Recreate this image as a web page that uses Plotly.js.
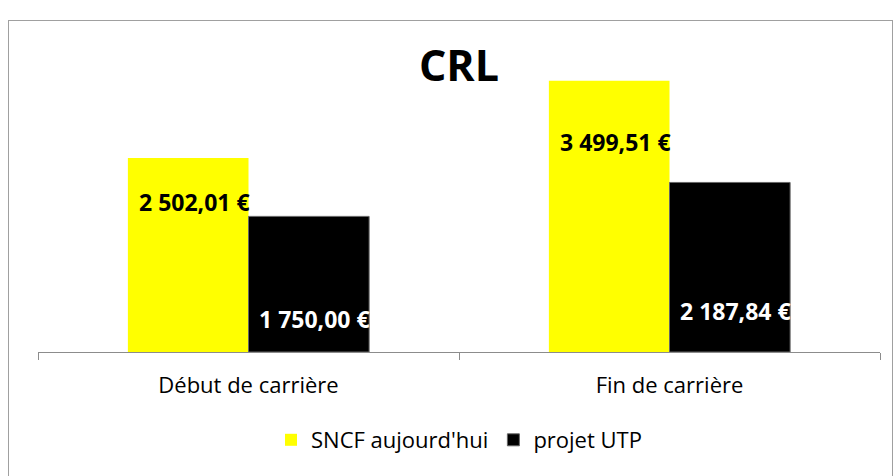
<!DOCTYPE html>
<html>
<head>
<meta charset="utf-8">
<script src="https://cdn.plot.ly/plotly-3.0.1.min.js"></script>
<style>
  html, body { margin: 0; padding: 0; background: #fff; }
  #frame { position: absolute; left: 8px; top: 20px; width: 885px; height: 470px; border: 1px solid #a0a0a0; box-sizing: border-box; }
  #chart { position: absolute; left: 0; top: 0; width: 896px; height: 476px; }
</style>
</head>
<body>
<div id="frame"></div>
<div id="chart"></div>
<script>
const categories = ["Début de carrière", "Fin de carrière"];
const seriesNames = ["SNCF aujourd'hui", "projet UTP"];
const sncfValues = [2502.01, 3499.51];
const utpValues = [1750.00, 2187.84];
const sncfLabels = ["2 502,01 €", "3 499,51 €"];
const utpLabels = ["1 750,00 €", "2 187,84 €"];

const W = 896, H = 476;
const margin = { l: 38, r: 16, t: 42, b: 124 };
const bargap = 0.427;
const plotW = W - margin.l - margin.r;
const barW = (plotW / categories.length) * (1 - bargap) / 2;
const FONT = "'Open Sans', 'Noto Sans', sans-serif";

const traces = [
  { type: 'bar', name: seriesNames[0], x: categories, y: sncfValues,
    marker: { color: '#FFFF00' }, hoverinfo: 'skip' },
  { type: 'bar', name: seriesNames[1], x: categories, y: utpValues,
    marker: { color: '#000000', line: { color: '#666666', width: 1 } }, hoverinfo: 'skip' }
];

const annotations = [];
categories.forEach((c, i) => {
  annotations.push({ x: c, y: sncfValues[i] * 0.775, xref: 'x', yref: 'y', text: sncfLabels[i],
    showarrow: false, xanchor: 'right', yanchor: 'middle', xshift: 3,
    font: { family: FONT, size: 23, color: '#000000', weight: 'bold' } });
  annotations.push({ x: c, y: utpValues[i] * 0.24, xref: 'x', yref: 'y', text: utpLabels[i],
    showarrow: false, xanchor: 'right', yanchor: 'middle', xshift: barW + 3,
    font: { family: FONT, size: 23, color: '#FFFFFF', weight: 'bold' } });
});

const layout = {
  width: W, height: H,
  margin: margin,
  paper_bgcolor: 'rgba(0,0,0,0)',
  plot_bgcolor: 'rgba(0,0,0,0)',
  font: { family: FONT, color: '#000000' },
  title: { text: '<b>CRL</b>', x: 0.5, xref: 'paper', xanchor: 'center', y: 1 - 66 / H, yref: 'container', yanchor: 'middle',
    font: { family: FONT, size: 43, color: '#000000' } },
  barmode: 'group',
  bargap: bargap,
  bargroupgap: 0,
  showlegend: true,
  legend: { orientation: 'h', x: 0.5, xanchor: 'center', y: 1 - 440 / H, yref: 'container', yanchor: 'middle',
    font: { family: FONT, size: 22, color: '#000000' }, itemwidth: 30, traceorder: 'normal' },
  xaxis: { type: 'category', showline: true, linecolor: '#8c8c8c', linewidth: 1,
    ticks: 'outside', tickson: 'boundaries', ticklen: 7, tickcolor: '#8c8c8c', ticklabelstandoff: 14,
    tickfont: { family: FONT, size: 22, color: '#000000' }, showgrid: false, fixedrange: true },
  yaxis: { range: [0, 4000], visible: false, showgrid: false, zeroline: false, fixedrange: true },
  annotations: annotations
};

Plotly.newPlot('chart', traces, layout, { displayModeBar: false, staticPlot: true });
</script>
</body>
</html>
